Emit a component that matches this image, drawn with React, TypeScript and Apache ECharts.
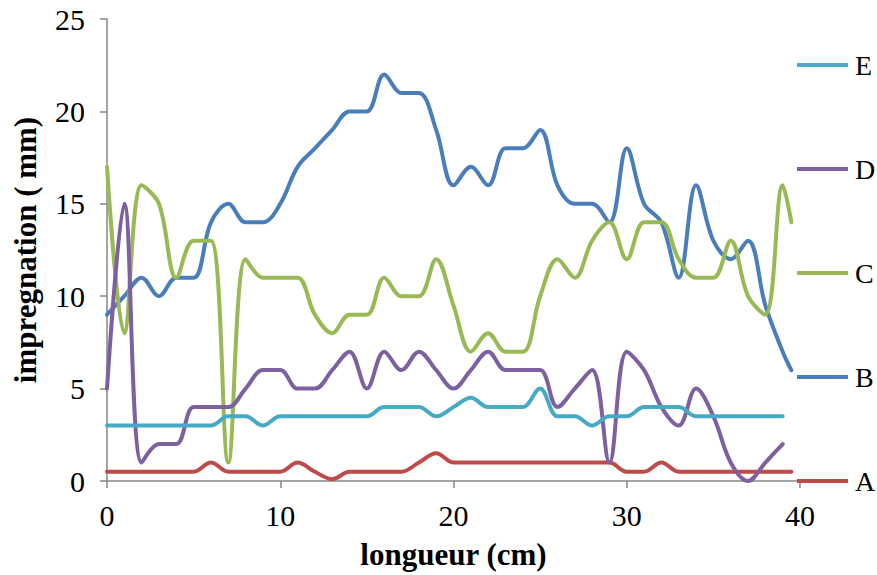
import React, { useEffect, useRef } from "react";
import * as echarts from "echarts";

const xs = [0, 1, 2, 3, 4, 5, 6, 7, 8, 9, 10, 11, 12, 13, 14, 15, 16, 17, 18, 19, 20, 21, 22, 23, 24, 25, 26, 27, 28, 29, 30, 31, 32, 33, 34, 35, 36, 37, 38, 39];
const xsLong = [...xs, 39.5];

const seriesA = [0.5, 0.5, 0.5, 0.5, 0.5, 0.5, 1, 0.5, 0.5, 0.5, 0.5, 1, 0.5, 0.1, 0.5, 0.5, 0.5, 0.5, 1, 1.5, 1, 1, 1, 1, 1, 1, 1, 1, 1, 1, 0.5, 0.5, 1, 0.5, 0.5, 0.5, 0.5, 0.5, 0.5, 0.5, 0.5];
const seriesB = [9, 10, 11, 10, 11, 11, 14, 15, 14, 14, 15, 17, 18, 19, 20, 20, 22, 21, 21, 19, 16, 17, 16, 18, 18, 19, 16, 15, 15, 14, 18, 15, 14, 11, 16, 13, 12, 13, 9.5, 7, 6];
const seriesC = [17, 8, 16, 15, 11, 13, 13, 1, 12, 11, 11, 11, 9, 8, 9, 9, 11, 10, 10, 12, 9.5, 7, 8, 7, 7, 10, 12, 11, 13, 14, 12, 14, 14, 12, 11, 11, 13, 10, 9, 16, 14];
const seriesD = [5, 15, 1, 2, 2, 4, 4, 4, 5, 6, 6, 5, 5, 6, 7, 5, 7, 6, 7, 6, 5, 6, 7, 6, 6, 6, 4, 5, 6, 1, 7, 6, 4, 3, 5, 3.5, 1, 0, 1, 2];
const seriesE = [3, 3, 3, 3, 3, 3, 3, 3.5, 3.5, 3, 3.5, 3.5, 3.5, 3.5, 3.5, 3.5, 4, 4, 4, 3.5, 4, 4.5, 4, 4, 4, 5, 3.5, 3.5, 3, 3.5, 3.5, 4, 4, 4, 3.5, 3.5, 3.5, 3.5, 3.5, 3.5];

const names = ["A", "B", "C", "D", "E"];
const legendOrder = ["E", "D", "C", "B", "A"];
const colors = ["#BE4B48", "#4A7EBB", "#98B954", "#7D60A0", "#46AAC5"];

const FONT = "Liberation Serif";

export default function App() {
  const ref = useRef<HTMLDivElement>(null);
  useEffect(() => {
    if (!ref.current) return;
    const chart = echarts.init(ref.current, null, { renderer: "svg" });
    const all = [
      { x: xsLong, y: seriesA },
      { x: xsLong, y: seriesB },
      { x: xsLong, y: seriesC },
      { x: xs, y: seriesD },
      { x: xs, y: seriesE },
    ];
    chart.setOption({
      animation: false,
      backgroundColor: "#fff",
      grid: { left: 107, right: 77, top: 19, bottom: 91, containLabel: false },
      legend: {
        orient: "vertical",
        left: 792,
        top: 45,
        itemWidth: 51,
        itemHeight: 4,
        itemGap: 74,
        icon: "rect",
        data: legendOrder,
        textStyle: { fontFamily: FONT, fontSize: 28, color: "#000", lineHeight: 30, padding: [0, 0, 0, 2] },
      },
      xAxis: {
        type: "value",
        min: 0,
        max: 40,
        interval: 10,
        name: "longueur (cm)",
        nameLocation: "middle",
        nameGap: 58,
        nameTextStyle: { fontFamily: FONT, fontSize: 31, fontWeight: "bold", color: "#000" },
        axisLine: { show: true, lineStyle: { color: "#868686", width: 1.5 } },
        axisTick: { show: true, length: 7, lineStyle: { color: "#868686", width: 1.5 } },
        axisLabel: { fontFamily: FONT, fontSize: 30, color: "#000", margin: 19 },
        splitLine: { show: false },
      },
      yAxis: {
        type: "value",
        min: 0,
        max: 25,
        interval: 5,
        name: "impregnation ( mm)",
        nameLocation: "middle",
        nameGap: 66,
        nameTextStyle: { fontFamily: FONT, fontSize: 31, fontWeight: "bold", color: "#000" },
        axisLine: { show: true, lineStyle: { color: "#868686", width: 1.5 } },
        axisTick: { show: true, length: 7, lineStyle: { color: "#868686", width: 1.5 } },
        axisLabel: { fontFamily: FONT, fontSize: 30, color: "#000", margin: 22 },
        splitLine: { show: false },
      },
      series: all.map((s, i) => ({
        name: names[i],
        type: "line",
        smooth: 0.36,
        symbol: "none",
        color: colors[i],
        lineStyle: { width: 4, color: colors[i], cap: "round", join: "round" },
        data: s.x.map((x, j) => [x, s.y[j]]),
      })),
    });
    return () => chart.dispose();
  }, []);
  return <div ref={ref} style={{ width: 877, height: 575, position: "absolute", left: 0, top: 0 }} />;
}
